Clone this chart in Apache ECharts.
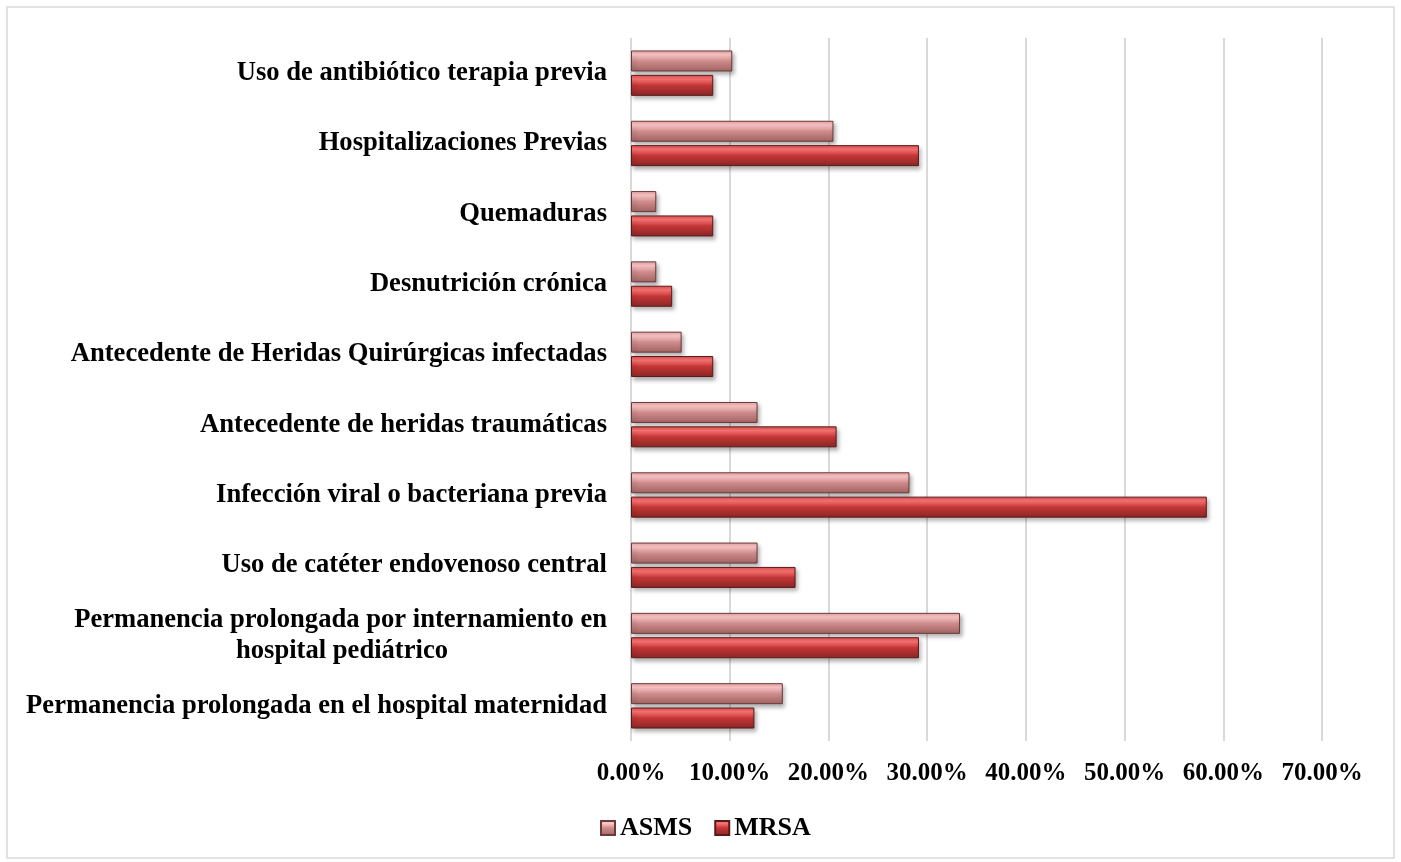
<!DOCTYPE html>
<html>
<head>
<meta charset="utf-8">
<script src="https://cdn.jsdelivr.net/npm/echarts@6/dist/echarts.min.js"></script>
<style>
html, body { margin: 0; padding: 0; background: #fff; }
#chart { width: 1401px; height: 862px; }
</style>
</head>
<body>
<div id="chart"></div>
<script>
// categorias de arriba hacia abajo
const categories = [
    'Uso de antibiótico terapia previa',
    'Hospitalizaciones Previas',
    'Quemaduras',
    'Desnutrición crónica',
    'Antecedente de Heridas Quirúrgicas infectadas',
    'Antecedente de heridas traumáticas',
    'Infección viral o bacteriana previa',
    'Uso de catéter endovenoso central',
    'Permanencia prolongada por internamiento en\nhospital pediátrico',
    'Permanencia prolongada en el hospital maternidad'
];
const asms = [10.26, 20.51, 2.56, 2.56, 5.13, 12.82, 28.21, 12.82, 33.33, 15.38];
const mrsa = [8.33, 29.17, 8.33, 4.17, 8.33, 20.83, 58.33, 16.67, 29.17, 12.50];
const xTicks = [0, 10, 20, 30, 40, 50, 60, 70];

const font = 'Liberation Serif';
const catSize = 26.6;

const chart = echarts.init(document.getElementById('chart'));

function barStyle(stops, border) {
    return {
        color: new echarts.graphic.LinearGradient(0, 0, 0, 1, stops),
        borderColor: border,
        borderWidth: 1,
        shadowBlur: 4,
        shadowColor: 'rgba(0,0,0,0.3)',
        shadowOffsetX: 2,
        shadowOffsetY: 3
    };
}

const option = {
    backgroundColor: '#fff',
    animation: false,
    graphic: [{
        type: 'rect',
        shape: { x: 7, y: 7, width: 1387, height: 851 },
        style: { fill: 'none', stroke: '#d9d9d9', lineWidth: 1.5 },
        silent: true
    }],
    grid: { left: 631, right: 79, top: 38, bottom: 121 },
    legend: {
        data: ['ASMS', 'MRSA'],
        left: 595,
        top: 810,
        itemWidth: 14,
        itemHeight: 14,
        itemGap: 22,
        icon: 'rect',
        textStyle: { fontFamily: font, fontWeight: 'bold', fontSize: 26, color: '#000' }
    },
    xAxis: {
        type: 'value',
        min: xTicks[0],
        max: xTicks[xTicks.length - 1],
        interval: 10,
        axisLine: { show: false },
        axisTick: { show: false },
        splitLine: { lineStyle: { color: '#d9d9d9', width: 2 } },
        axisLabel: {
            margin: 20,
            fontFamily: font,
            fontWeight: 'bold',
            fontSize: 25,
            color: '#000',
            formatter: v => v.toFixed(2) + '%'
        }
    },
    yAxis: {
        type: 'category',
        inverse: true,
        data: categories,
        axisLine: { show: false },
        axisTick: { show: false },
        axisLabel: {
            margin: 24,
            fontFamily: font,
            fontWeight: 'bold',
            fontSize: catSize,
            color: '#000',
            lineHeight: 31,
            formatter: function (v) {
                const parts = v.split('\n');
                if (parts.length === 1) return v;
                return '{a|' + parts[0] + '}\n{b|' + parts[1] + '}';
            },
            rich: {
                a: { fontFamily: font, fontWeight: 'bold', fontSize: catSize, color: '#000', lineHeight: 31 },
                b: { fontFamily: font, fontWeight: 'bold', fontSize: catSize, color: '#000', lineHeight: 31, padding: [0, 159, 0, 0] }
            }
        }
    },
    series: [
        {
            name: 'ASMS',
            type: 'bar',
            data: asms,
            barWidth: 21,
            barGap: '16%',
            itemStyle: barStyle([
                { offset: 0, color: '#eaa0a0' },
                { offset: 0.2, color: '#ffcaca' },
                { offset: 0.5, color: '#cf8c8c' },
                { offset: 1, color: '#a06262' }
            ], '#6b3a3a')
        },
        {
            name: 'MRSA',
            type: 'bar',
            data: mrsa,
            barWidth: 21,
            itemStyle: barStyle([
                { offset: 0, color: '#dc4c4c' },
                { offset: 0.2, color: '#ff7676' },
                { offset: 0.5, color: '#c43636' },
                { offset: 1, color: '#8a2626' }
            ], '#5a1a1a')
        }
    ]
};

chart.setOption(option);
</script>
</body>
</html>
